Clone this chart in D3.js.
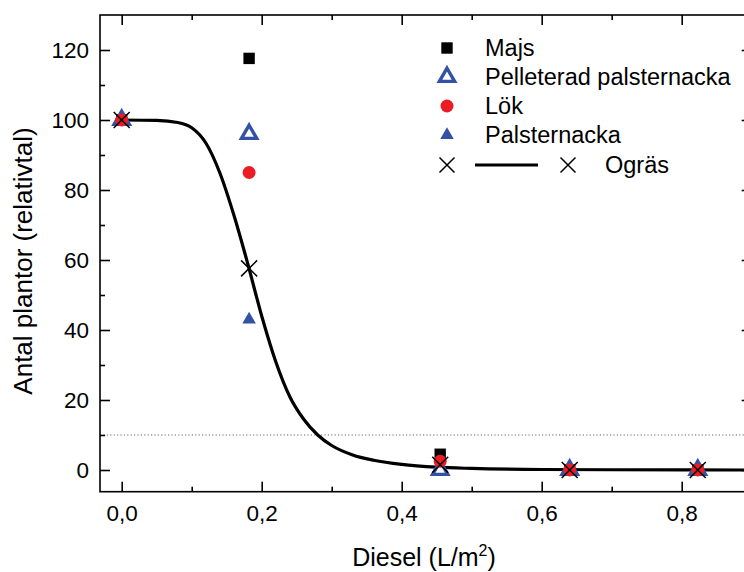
<!DOCTYPE html>
<html>
<head>
<meta charset="utf-8">
<script src="https://cdn.jsdelivr.net/npm/d3@7"></script>
<style>
  body { margin: 0; background: #fff; }
  svg { display: block; font-family: "Liberation Sans", Arial, sans-serif; }
</style>
</head>
<body>
<div id="chart"></div>
<script>
// Diesel dose (L/m2) against relative plant count.
const doses = [0, 0.182, 0.455, 0.64, 0.823];

const majs = [100, 117.6, 4.5, 0, 0];
const pelleterad = [100, 96, 0, 0, 0];
const lok = [100, 85, 2.5, 0, 0];
const palsternacka = [100, 43, 0, 0, 0];
const ogras = [100, 57.6, 1.5, 0, 0];

// Fitted weed curve.
const curveX = [0, 0.05, 0.08, 0.1, 0.12, 0.14, 0.16, 0.18, 0.2, 0.22, 0.24, 0.26, 0.28, 0.3, 0.33, 0.36, 0.4, 0.45, 0.5, 0.6, 0.7, 0.9];
const curveY = [100, 99.9, 99.3, 97.8, 93.5, 85, 73, 59, 44, 31, 21, 14.5, 10, 7, 4.3, 2.8, 1.6, 0.8, 0.45, 0.15, 0.07, 0];

const xMajor = [0, 0.2, 0.4, 0.6, 0.8];
const xMinor = [0.1, 0.3, 0.5, 0.7];
const yMajor = [0, 20, 40, 60, 80, 100, 120];
const yMinor = [10, 30, 50, 70, 90, 110];
const thresholdLine = 10;

const legendNames = ["Majs", "Pelleterad palsternacka", "Lök", "Palsternacka", "Ogräs"];

const WIDTH = 744, HEIGHT = 572;
const margin = { left: 100, top: 15, right: 751.7, bottom: 491.7 };
const BLUE = "#3352a4", RED = "#ec1c24";

const svg = d3.select("#chart").append("svg")
    .attr("width", WIDTH)
    .attr("height", HEIGHT);

const x = d3.scaleLinear().domain([-0.031, 0.9]).range([margin.left, margin.right]);
const y = d3.scaleLinear().domain([-6.2, 130]).range([margin.bottom, margin.top]);

const comma = v => d3.format(".1f")(v).replace(".", ",");

// dotted 10% reference line
svg.append("line")
    .attr("x1", x.range()[0]).attr("x2", x.range()[1])
    .attr("y1", y(thresholdLine)).attr("y2", y(thresholdLine))
    .attr("stroke", "#666").attr("stroke-width", 1)
    .attr("stroke-dasharray", "1.2,2.2");

// axes: inward ticks on all four sides
const styleAxis = g => {
    g.select(".domain").remove();
    g.selectAll(".tick line").attr("stroke", "#000").attr("stroke-width", 1.6);
    g.selectAll("text").attr("fill", "#000").style("font-size", "22.5px")
        .style("font-family", "'Liberation Sans', Arial, sans-serif");
};

svg.append("g").attr("transform", `translate(0,${margin.bottom})`)
    .call(d3.axisBottom(x).tickValues(xMajor).tickSize(-10).tickPadding(13).tickFormat(comma))
    .call(styleAxis);
svg.append("g").attr("transform", `translate(0,${margin.bottom})`)
    .call(d3.axisBottom(x).tickValues(xMinor).tickSize(-5).tickFormat(""))
    .call(styleAxis);
svg.append("g").attr("transform", `translate(0,${margin.top})`)
    .call(d3.axisTop(x).tickValues(xMajor).tickSize(-10).tickFormat(""))
    .call(styleAxis);
svg.append("g").attr("transform", `translate(0,${margin.top})`)
    .call(d3.axisTop(x).tickValues(xMinor).tickSize(-5).tickFormat(""))
    .call(styleAxis);

svg.append("g").attr("transform", `translate(${margin.left},0)`)
    .call(d3.axisLeft(y).tickValues(yMajor).tickSize(-10).tickPadding(11).tickFormat(d3.format("d")))
    .call(styleAxis);
svg.append("g").attr("transform", `translate(${margin.left},0)`)
    .call(d3.axisLeft(y).tickValues(yMinor).tickSize(-5).tickFormat(""))
    .call(styleAxis);
svg.append("g").attr("transform", `translate(${margin.right},0)`)
    .call(d3.axisRight(y).tickValues(yMajor).tickSize(-10).tickFormat(""))
    .call(styleAxis);
svg.append("g").attr("transform", `translate(${margin.right},0)`)
    .call(d3.axisRight(y).tickValues(yMinor).tickSize(-5).tickFormat(""))
    .call(styleAxis);

svg.append("rect")
    .attr("x", margin.left).attr("y", margin.top)
    .attr("width", margin.right - margin.left)
    .attr("height", margin.bottom - margin.top)
    .attr("fill", "none").attr("stroke", "#000").attr("stroke-width", 1.6);

// axis titles
svg.append("text")
    .attr("transform", "translate(32,261) rotate(-90)")
    .attr("text-anchor", "middle")
    .style("font-size", "26px")
    .text("Antal plantor (relativtal)");

const xTitle = svg.append("text")
    .attr("x", 424).attr("y", 566)
    .attr("text-anchor", "middle")
    .style("font-size", "25px");
xTitle.append("tspan").text("Diesel (L/m");
xTitle.append("tspan").attr("dy", -10).style("font-size", "16px").text("2");
xTitle.append("tspan").attr("dy", 10).text(")");

// weed curve
const line = d3.line()
    .x(d => x(d[0]))
    .y(d => y(d[1]))
    .curve(d3.curveMonotoneX);

svg.append("path")
    .datum(d3.zip(curveX, curveY))
    .attr("fill", "none")
    .attr("stroke", "#000")
    .attr("stroke-width", 3.2)
    .attr("d", line);

// marker drawers
const sym = (type, size) => d3.symbol().type(type).size(size)();
const drawSquare = (g, cx, cy) => g.append("path").attr("d", sym(d3.symbolSquare, 130))
    .attr("transform", `translate(${cx},${cy})`).attr("fill", "#000");
const drawOpenTri = (g, cx, cy) => g.append("path").attr("d", sym(d3.symbolTriangle, 100))
    .attr("transform", `translate(${cx},${cy})`).attr("fill", "#fff")
    .attr("stroke", BLUE).attr("stroke-width", 3.4);
const drawCircle = (g, cx, cy) => g.append("circle").attr("cx", cx).attr("cy", cy)
    .attr("r", 6.5).attr("fill", RED);
const drawTri = (g, cx, cy) => g.append("path").attr("d", sym(d3.symbolTriangle, 80))
    .attr("transform", `translate(${cx},${cy})`).attr("fill", BLUE);
const drawCross = (g, cx, cy, h = 8) => g.append("path")
    .attr("d", `M${cx - h},${cy - h}L${cx + h},${cy + h}M${cx - h},${cy + h}L${cx + h},${cy - h}`)
    .attr("stroke", "#000").attr("stroke-width", 1.5).attr("fill", "none");

const points = svg.append("g");
const series = [
    [majs, drawSquare],
    [palsternacka, drawTri],
    [pelleterad, drawOpenTri],
    [lok, drawCircle],
    [ogras, drawCross]
];
series.forEach(([vals, draw]) => {
    vals.forEach((v, i) => draw(points, x(doses[i]), y(v)));
});

// legend
const legend = svg.append("g");
const rowY = [48, 77, 106, 135, 165];
const legendDraw = [drawSquare, drawOpenTri, drawCircle, drawTri];
legendDraw.forEach((draw, i) => draw(legend, 447, rowY[i]));
drawCross(legend, 447, rowY[4], 7.5);
drawCross(legend, 568, rowY[4], 7.5);
legend.append("line")
    .attr("x1", 475).attr("x2", 538)
    .attr("y1", rowY[4]).attr("y2", rowY[4])
    .attr("stroke", "#000").attr("stroke-width", 3.2);

legend.selectAll("text.name")
    .data(legendNames)
    .join("text")
    .attr("class", "name")
    .attr("x", (d, i) => i === 4 ? 605 : 485)
    .attr("y", (d, i) => rowY[i])
    .attr("dy", "0.36em")
    .style("font-size", "23.5px")
    .text(d => d);
</script>
</body>
</html>
